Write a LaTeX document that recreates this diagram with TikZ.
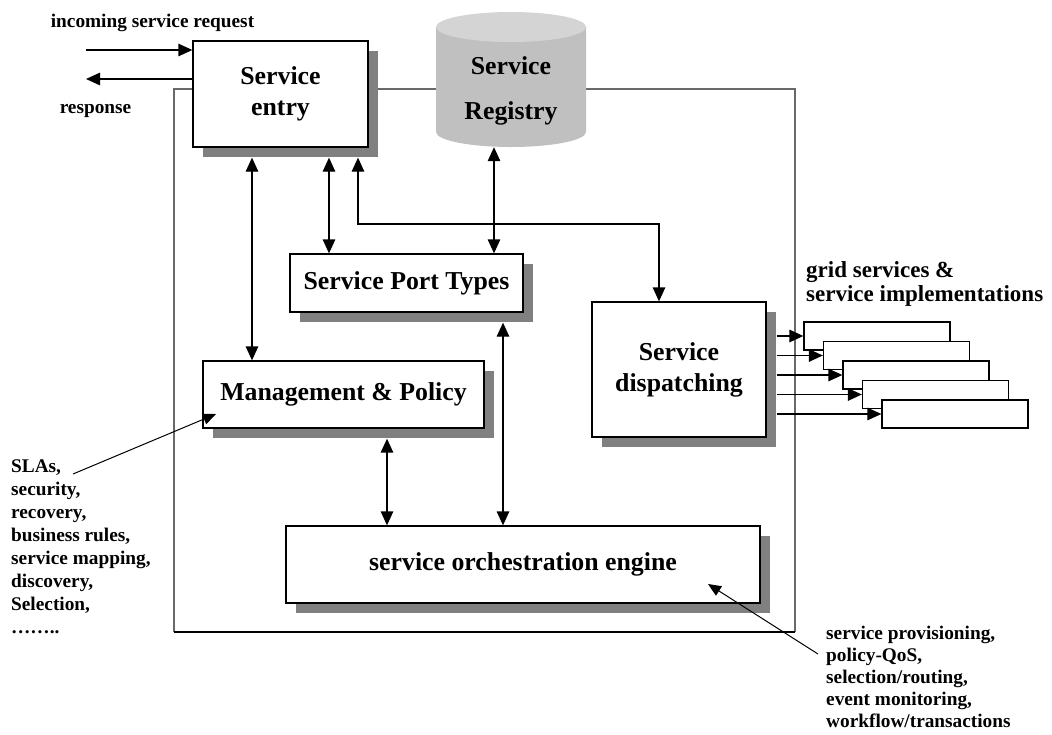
\documentclass[tikz,border=0pt]{standalone}
\usepackage{fontspec}
\setmainfont{Liberation Serif}
\usetikzlibrary{arrows.meta,shadows,calc}
\definecolor{shd}{RGB}{128,128,128}
\definecolor{regbody}{RGB}{192,192,192}
\definecolor{regtop}{RGB}{212,212,212}
\definecolor{frm}{RGB}{105,105,105}
\newcommand\bxfont{\fontsize{25.8}{31}\selectfont\bfseries}
\newcommand\lblfont{\fontsize{19.3}{22.9}\selectfont\bfseries}
\newcommand\lblfontb{\fontsize{19.3}{21.8}\selectfont\bfseries}
\newcommand\gridfont{\fontsize{23}{24}\selectfont\bfseries}
\begin{document}
\begin{tikzpicture}[x=1pt,y=-1pt,
  box/.style={draw=black, line width=1.3pt, fill=white, inner sep=0pt, align=center, font=\bxfont,
    drop shadow={shadow xshift=10pt, shadow yshift=-10pt, fill=shd, opacity=1}},
  gbox/.style={draw=black, line width=1.3pt, fill=white, inner sep=0pt, minimum width=146pt, minimum height=28pt},
  arr/.style={-{Triangle[length=14pt,width=12.5pt]}, line width=1.3pt},
  dbl/.style={{Triangle[length=14pt,width=12.5pt]}-{Triangle[length=14pt,width=12.5pt]}, line width=1.3pt},
  thinarr/.style={-{Triangle[length=13pt,width=11pt]}, line width=1pt},
  lbl/.style={inner sep=0pt, font=\lblfont},
]
\useasboundingbox (0,0) rectangle (1052,734);

% outer frame
\draw[frm, line width=1.4pt] (174,632) -- (174,89) -- (795,89) -- (795,632);
\draw[black, line width=1.4pt] (174,632) -- (795,632);

% service registry (cylinder)
\fill[regbody] (436,27) -- (436,132) arc[start angle=180, end angle=0, x radius=75, y radius=15] -- (586,27) -- cycle;
\fill[regtop] (511,27) ellipse[x radius=75, y radius=15];
\node[inner sep=0pt, minimum width=150pt, minimum height=135pt] (reg) at (511,79.5) {};
\node[inner sep=0pt, align=center, font=\fontsize{25.8}{45}\selectfont\bfseries] (regtext) at (511,91) {Service\\Registry};

% main boxes
\node[box, minimum width=175pt, minimum height=106pt] (entry) at (280.5,94) {Service\\entry};
\node[box, minimum width=233pt, minimum height=58pt] (pt) at (406.5,283) {Service Port Types};
\node[box, minimum width=281pt, minimum height=67pt] (mp) at (343.5,394.5) {Management \& Policy};
\node[box, minimum width=174pt, minimum height=135pt] (disp) at (679,369.5) {Service\\dispatching};
\node[box, minimum width=474pt, minimum height=77pt] (orch) at (523,564.5) {service orchestration engine};

% grid service boxes
\node[gbox] (g1) at (877,336) {};
\node[gbox] (g2) at (896.5,355.5) {};
\node[gbox] (g3) at (916,375) {};
\node[gbox] (g4) at (935.5,394.5) {};
\node[gbox] (g5) at (955,414) {};

% labels (base anchor = baseline of last line)
\node[lbl, anchor=base] (inc) at (152.5,27) {incoming service request};
\node[lbl, anchor=base] (resp) at (95.5,113) {response};
\node[inner sep=0pt, font=\gridfont, anchor=base west, align=left] (gl) at (806,301) {grid services \&\\service implementations};
\node[lbl, anchor=base west, align=left] (sla) at (11,633) {SLAs,\\security,\\recovery,\\business rules,\\service mapping,\\discovery,\\Selection,\\……..};
\node[inner sep=0pt, font=\lblfontb, anchor=base west, align=left] (orl) at (826,727) {service provisioning,\\policy-QoS,\\selection/routing,\\event monitoring,\\workflow/transactions};

% helper coordinates (shadow bottoms / right)
\coordinate (eb) at ($(entry.south)+(0,10)$);
\coordinate (ptb) at ($(pt.south)+(0,10)$);
\coordinate (mpb) at ($(mp.south)+(0,10)$);
\coordinate (de) at ($(disp.east)+(10,0)$);

% connectors
\draw[dbl] (252,0 |- eb) -- (252,0 |- mp.north);
\draw[dbl] (329,0 |- eb) -- (329,0 |- pt.north);
\draw[dbl] (358,0 |- eb) -- (358,224) -- (659,224) -- (659,0 |- disp.north);
\draw[dbl] (494,0 |- reg.south) -- (494,0 |- pt.north);
\draw[dbl] (387,0 |- mpb) -- (387,0 |- orch.north);
\draw[dbl] (503,0 |- ptb) -- (503,0 |- orch.north);

\draw[arr] (de |- g1.west) -- (g1.west);
\draw[arr] (de |- g2.west) -- (g2.west);
\draw[arr] (de |- g3.west) -- (g3.west);
\draw[arr] (de |- g4.west) -- (g4.west);
\draw[arr] (de |- g5.west) -- (g5.west);

\coordinate (inS) at (86,50);
\coordinate (rsE) at (86,79);
\draw[arr] (inS) -- (inS -| entry.west);
\draw[arr] (rsE -| entry.west) -- (rsE);

\coordinate (slaS) at (73,474);
\coordinate (slaT) at (216,414);
\draw[thinarr] (slaS) -- (slaT);
\coordinate (orlS) at (818,654);
\coordinate (orlT) at (708,584);
\draw[thinarr] (orlS) -- (orlT);
\end{tikzpicture}
\end{document}
